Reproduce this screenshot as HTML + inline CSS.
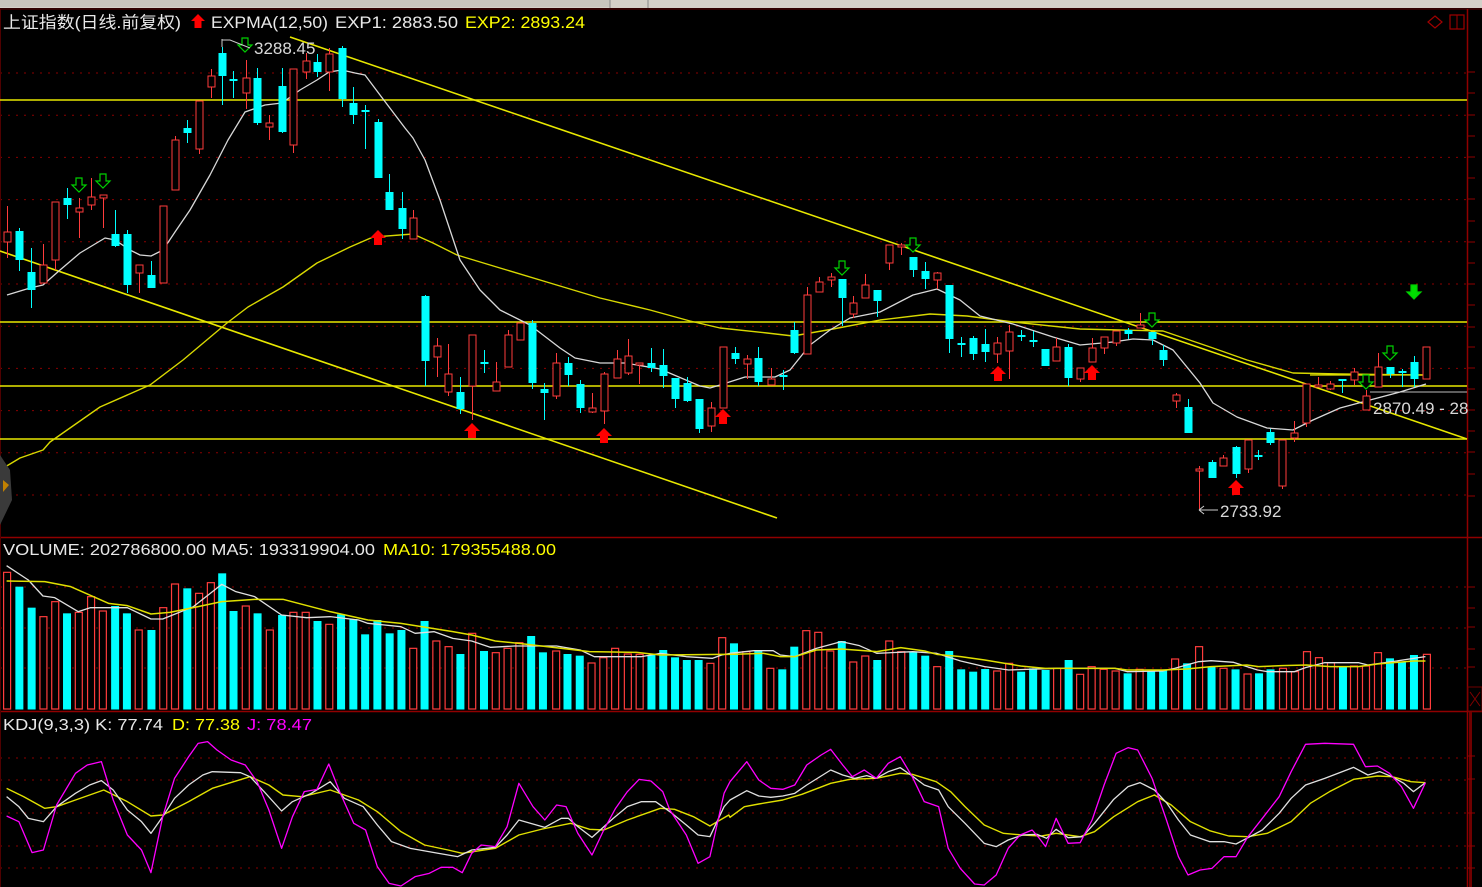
<!DOCTYPE html>
<html><head><meta charset="utf-8"><style>
html,body{margin:0;padding:0;background:#000;width:1482px;height:887px;overflow:hidden}
svg{display:block}
text{font-family:"Liberation Sans","Noto Sans CJK SC",sans-serif}
</style></head><body>
<svg id="s" width="1482" height="887" xmlns="http://www.w3.org/2000/svg">
<rect width="1482" height="887" fill="#000"/>
<rect x="0" y="0" width="1482" height="8" fill="#d4d0c8"/>
<rect x="0" y="0" width="610" height="7" fill="#c8c4bc"/>
<line x1="610" y1="0" x2="610" y2="8" stroke="#888"/><line x1="648" y1="0" x2="648" y2="8" stroke="#888"/>
<g id="grid"></g>
<g id="main"></g>
<text x="3" y="28" font-size="16.5" fill="#e8e8e8" textLength="178" lengthAdjust="spacingAndGlyphs">上证指数(日线.前复权)</text>
<polygon points="198,14 205,21 201.5,21 201.5,28 194.5,28 194.5,21 191,21" fill="#ff0000"/>
<text x="211" y="28" font-size="16.5" fill="#e8e8e8" textLength="117" lengthAdjust="spacingAndGlyphs">EXPMA(12,50)</text>
<text x="335" y="28" font-size="16.5" fill="#e8e8e8" textLength="123" lengthAdjust="spacingAndGlyphs">EXP1: 2883.50</text>
<text x="465" y="28" font-size="16.5" fill="#ffff00" textLength="120" lengthAdjust="spacingAndGlyphs">EXP2: 2893.24</text>
<text x="254" y="54" font-size="17" fill="#d8d8d8">3288.45</text>
<path d="M222,39 L222,47 M222,40 L230,40 L250,48" stroke="#ccc" fill="none"/>
<text x="1220" y="517" font-size="17" fill="#d8d8d8">2733.92</text>
<path d="M1199,510 L1218,510 M1199,510 L1204,506 M1199,510 L1204,514" stroke="#ccc" fill="none"/>
<text x="1373" y="414" font-size="17" fill="#d8d8d8">2870.49 - 28</text>
<text x="3" y="555" font-size="15.5" fill="#e8e8e8" textLength="372" lengthAdjust="spacingAndGlyphs">VOLUME: 202786800.00  MA5: 193319904.00</text>
<text x="383" y="555" font-size="15.5" fill="#ffff00" textLength="173" lengthAdjust="spacingAndGlyphs">MA10: 179355488.00</text>
<text x="3" y="730" font-size="15.5" fill="#e8e8e8" textLength="160" lengthAdjust="spacingAndGlyphs">KDJ(9,3,3)  K: 77.74</text>
<text x="172" y="730" font-size="15.5" fill="#ffff00" textLength="68" lengthAdjust="spacingAndGlyphs">D: 77.38</text>
<text x="247" y="730" font-size="15.5" fill="#ff00ff" textLength="65" lengthAdjust="spacingAndGlyphs">J: 78.47</text>
<polygon points="1435,16 1442,22 1435,28 1428,22" fill="none" stroke="#a00000" stroke-width="1.2"/>
<rect x="1450" y="15" width="14" height="14" fill="none" stroke="#a00000" stroke-width="1.2"/><line x1="1457" y1="15" x2="1457" y2="29" stroke="#a00000"/>
<polygon points="0,455 10,470 12,500 0,525" fill="#3a3a3a"/><polygon points="3,480 9,485 3,492" fill="#c08000"/>
</svg>
<script>
var S=document.getElementById('main'),G=document.getElementById('grid'),NS='http://www.w3.org/2000/svg';
function el(p,n,a){var e=document.createElementNS(NS,n);for(var k in a)e.setAttribute(k,a[k]);p.appendChild(e);return e;}
for(var k=0;k<11;k++){var y=73+42.2*k;el(G,'line',{x1:0,x2:1466,y1:y,y2:y,stroke:'#8a0000','stroke-dasharray':'2,6'});}
[587,628,668].forEach(function(y){el(G,'line',{x1:0,x2:1466,y1:y,y2:y,stroke:'#8a0000','stroke-dasharray':'2,6'})});
[758,780,813,846,868].forEach(function(y){el(G,'line',{x1:0,x2:1466,y1:y,y2:y,stroke:'#8a0000','stroke-dasharray':'2,6'})});
el(G,'line',{x1:0,x2:1482,y1:537.5,y2:537.5,stroke:'#900000','stroke-width':1.5});
el(G,'line',{x1:0,x2:1482,y1:711.5,y2:711.5,stroke:'#900000','stroke-width':1.5});
el(G,'line',{x1:0,x2:1482,y1:9,y2:9,stroke:'#600000'});
el(G,'line',{x1:1467.5,x2:1467.5,y1:9,y2:887,stroke:'#900000','stroke-width':1.5});
el(G,'line',{x1:1470.5,x2:1470.5,y1:712,y2:887,stroke:'#700000','stroke-width':3});
el(G,'line',{x1:0.5,x2:0.5,y1:9,y2:887,stroke:'#500000'});
[72,93,115,136,157,178,199,221,242,263,284,305,327,347,368,389,410,431,452,474,496,587,608,627,649,667,756,779,813,846,868].forEach(function(y){el(G,'line',{x1:1468,x2:1475,y1:y,y2:y,stroke:'#900000'})});
el(G,'rect',{x:1468,y:687,width:14,height:24,fill:'none',stroke:'#700000'});
el(G,'path',{d:'M1470,692 L1480,706 M1480,692 L1470,706',stroke:'#800000'});
var Y='#e8e800';
[100,322,386,439].forEach(function(y){el(S,'line',{x1:0,x2:1467,y1:y,y2:y,stroke:Y,'stroke-width':1.6})});
el(S,'line',{x1:290,y1:37,x2:1467,y2:439,stroke:Y,'stroke-width':1.6});
el(S,'line',{x1:0,y1:251,x2:777,y2:518,stroke:Y,'stroke-width':1.6});
el(S,'line',{x1:1310,y1:375,x2:1426,y2:375,stroke:Y,'stroke-width':1.2});
el(S,'line',{x1:1370,y1:392,x2:1467,y2:392,stroke:'#bbb','stroke-width':1});
function pl(pts,c,w){el(S,'polyline',{points:pts.map(function(p){return p[0]+','+p[1]}).join(' '),fill:'none',stroke:c,'stroke-width':w||1.3,'stroke-linejoin':'round'});}
pl([[0,470],[20,458],[43,450],[50,442],[100,407],[150,385],[183,360],[227,323],[248,307],[283,287],[317,263],[350,247],[373,237],[413,234],[433,243],[457,255],[500,268],[550,283],[600,298],[650,310],[690,321],[720,328],[767,333],[793,336],[833,329],[880,320],[930,314],[967,316],[1013,322],[1080,329],[1163,331],[1213,348],[1247,360],[1293,373],[1340,374],[1426,375]],'#d8d800',1.4);
pl([[7,295],[30,288],[43,285],[60,270],[80,253],[105,238],[115,240],[130,250],[140,255],[151,256],[163,250],[175,232],[190,210],[210,175],[228,140],[245,112],[265,105],[282,103],[300,90],[317,80],[329,72],[342,70],[355,73],[365,75],[380,95],[405,128],[413,138],[425,160],[440,200],[460,260],[480,290],[500,310],[530,325],[560,348],[575,358],[600,363],[625,363],[660,369],[700,386],[710,388],[720,385],[745,377],[775,377],[790,370],[810,345],[830,330],[850,318],[880,312],[913,295],[937,289],[960,300],[980,316],[1013,324],[1053,337],[1080,345],[1113,342],[1133,339],[1153,340],[1173,350],[1200,383],[1213,403],[1237,417],[1267,428],[1293,430],[1313,420],[1340,408],[1370,400],[1400,392],[1426,384]],'#d8d8d8',1.3);
var C=[[7,'r',232,242,206,258],[19,'c',231,260,228,271],[31,'c',272,290,248,308],[43,'r',265,283,244,283],[55,'r',202,260,202,270],[67,'c',198,205,188,219],[79,'r',208,212,198,238],[91,'r',197,205,178,210],[103,'r',195,198,195,228],[115,'c',234,246,210,247],[127,'c',234,285,230,293],[139,'r',265,273,265,293],[151,'c',275,288,261,288],[163,'r',206,283,206,283],[175,'r',140,190,136,190],[187,'c',128,133,120,143],[199,'r',101,149,101,154],[211,'r',76,87,69,98],[222,'c',53,76,47,105],[233,'c',79,81,71,98],[246,'r',78,93,60,109],[257,'c',78,123,68,125],[269,'r',123,127,115,140],[282,'c',86,132,68,133],[293,'r',69,145,69,153],[306,'r',61,72,53,79],[317,'c',62,72,54,77],[329,'r',54,72,48,91],[342,'c',48,99,46,107],[353,'c',103,115,87,124],[365,'c',110,112,105,149],[378,'c',122,178,119,178],[389,'c',192,210,174,210],[402,'c',208,229,192,239],[413,'r',218,239,210,239],[425,'c',296,361,295,386],[437,'r',346,357,338,377],[448,'r',374,392,344,396],[460,'c',392,409,377,414],[472,'r',335,386,335,420],[484,'c',362,364,350,373],[496,'r',382,391,362,391],[508,'r',335,367,330,367],[520,'r',323,340,323,340],[532,'c',323,383,320,389],[544,'c',389,393,383,420],[556,'r',363,396,353,399],[568,'c',363,375,357,386],[580,'c',384,408,380,413],[592,'r',408,412,393,413],[604,'r',374,411,372,424],[617,'r',359,378,350,378],[628,'r',356,373,339,375],[639,'r',363,365,363,384],[651,'c',363,368,348,372],[663,'c',365,376,349,388],[675,'c',378,399,378,408],[687,'c',383,401,377,402],[699,'c',399,429,399,433],[711,'r',408,426,402,432],[723,'r',347,408,347,408],[735,'c',353,359,347,364],[747,'r',359,364,355,379],[758,'c',358,382,347,386],[771,'r',379,385,368,385],[783,'c',375,377,370,390],[794,'c',330,353,322,354],[807,'r',295,354,287,354],[819,'r',282,292,277,292],[831,'r',277,280,273,287],[842,'c',279,298,279,326],[853,'r',303,314,296,318],[865,'r',285,298,274,298],[877,'c',290,301,290,317],[889,'r',245,263,245,270],[901,'r',245,247,243,255],[913,'c',257,270,257,277],[925,'c',271,279,262,289],[937,'r',273,280,272,289],[949,'c',285,339,285,353],[961,'c',343,345,337,357],[973,'c',338,354,336,360],[985,'c',344,352,329,362],[997,'r',343,354,337,363],[1009,'r',332,351,325,379],[1021,'c',335,337,330,341],[1033,'c',340,342,331,347],[1045,'c',349,366,349,366],[1056,'r',347,361,338,361],[1068,'c',347,378,344,386],[1080,'r',368,379,368,382],[1092,'r',348,362,338,362],[1104,'r',337,348,337,354],[1116,'r',331,343,331,346],[1128,'c',330,334,328,339],[1140,'r',325,328,313,328],[1152,'c',332,339,332,345],[1163,'c',350,360,345,366],[1176,'r',395,401,393,408],[1188,'c',407,433,399,433],[1199,'r',469,471,466,509],[1212,'c',462,478,460,478],[1223,'r',458,466,455,466],[1236,'c',447,474,446,478],[1248,'r',440,469,440,473],[1258,'c',455,457,450,460],[1270,'c',432,443,429,445],[1282,'r',440,486,440,489],[1294,'r',433,438,421,442],[1306,'r',384,423,384,427],[1318,'r',385,387,377,387],[1330,'r',384,389,381,390],[1342,'c',379,381,379,393],[1354,'r',372,380,368,385],[1366,'r',396,410,390,410],[1378,'r',367,387,353,387],[1390,'c',367,374,367,378],[1402,'c',371,373,369,387],[1414,'c',362,379,356,387],[1426,'r',347,379,347,379]];
var R='#ff3c3c',CY='#00ffff';
C.forEach(function(d){var x=d[0],t=d[2],b=d[3],h=d[4],l=d[5];if(b-t<2){b=t+2;}
 var col=d[1]=='r'?R:CY;
 el(S,'line',{x1:x+0.5,x2:x+0.5,y1:h,y2:l,stroke:col,'stroke-width':1});
 if(d[1]=='r')el(S,'rect',{x:x-3,y:t,width:7,height:b-t,fill:'#000',stroke:R,'stroke-width':1});
 else el(S,'rect',{x:x-3.5,y:t,width:8,height:b-t,fill:CY});
});
function dn(cx,ty,fill){el(S,'polygon',{points:[cx-3,ty,cx+3,ty,cx+3,ty+7,cx+7,ty+7,cx,ty+14,cx-7,ty+7,cx-3,ty+7].join(','),fill:fill?'#00e000':'#000',stroke:'#00d000','stroke-width':1.2});}
function up(cx,by){el(S,'polygon',{points:[cx,by-15,cx+8,by-7,cx+4,by-7,cx+4,by,cx-4,by,cx-4,by-7,cx-8,by-7].join(','),fill:'#ff0000'});}
[[79,178],[103,174],[245,38],[842,261],[913,238],[1152,313],[1366,375],[1390,346]].forEach(function(a){dn(a[0],a[1],false)});
dn(1414,285,true);
[[378,245],[472,438],[604,443],[723,424],[998,381],[1092,380],[1236,495]].forEach(function(a){up(a[0],a[1])});
var V7=[[14,'r',112],[40,'c',155],[66,'c',218],[91,'r',245],[116,'r',200],[141,'c',235],[166,'r',232],[192,'r',185],[217,'r',228],[243,'c',213],[268,'c',235],[293,'r',285],[320,'c',285],[345,'r',218],[370,'r',147],[396,'c',160],[421,'r',175],[446,'r',143],[470,'c',115],[494,'c',228],[520,'r',213],[545,'c',235],[571,'r',285],[597,'c',240],[621,'r',232],[647,'r',232],[672,'c',258],[697,'r',268],[722,'c',238],[748,'c',252],[773,'c',298],[799,'c',255],[825,'c',295],[850,'c',285],[875,'r',340],[899,'c',258],[924,'r',318],[950,'r',335],[975,'c',357],[1000,'r',295],[1025,'c',348],[1050,'r',353],[1075,'r',340],[1100,'r',323],[1125,'c',303],[1150,'c',352],[1178,'r',348],[1202,'c',357],[1228,'c',362],[1253,'r',384],[1278,'r',368],[1303,'r',340],[1330,'r',357],[1355,'r',358],[1380,'c',360],[1405,'c',345],[1430,'c',367],[1455,'c',375],[1480,'c',375],[1505,'r',385],[1530,'r',308],[1555,'c',325]];
var V8=[[33,'r',350],[58,'c',345],[83,'r',400],[108,'c',403],[133,'c',335],[158,'r',287],[183,'r',292],[208,'r',348],[232,'c',318],[256,'r',381],[281,'r',363],[306,'c',375],[331,'r',318],[356,'r',350],[381,'c',350],[406,'c',362],[431,'r',395],[456,'c',348],[481,'c',403],[506,'c',410],[531,'c',402],[556,'r',408],[581,'r',385],[606,'c',410],[631,'c',400],[657,'c',405],[681,'r',400],[705,'c',375],[729,'r',418],[753,'r',395],[778,'r',403],[803,'r',408],[828,'c',415],[853,'r',403],[877,'c',408],[902,'c',405],[927,'r',372],[952,'c',385],[977,'r',335],[1003,'c',395],[1028,'r',400],[1053,'c',403],[1078,'r',417],[1102,'c',415],[1126,'c',403],[1152,'r',400],[1177,'r',410],[1202,'r',350],[1227,'r',368],[1252,'r',383],[1277,'c',393],[1300,'r',393],[1325,'r',393],[1350,'r',353],[1375,'c',370],[1400,'c',380],[1425,'c',360],[1452,'r',358]];
function vb(x,t,y){var top=535+y/3,bot=709;
 if(t=='r')el(S,'rect',{x:x-3,y:top,width:7,height:bot-top,fill:'#000',stroke:R,'stroke-width':1.2});
 else el(S,'rect',{x:x-3.5,y:top,width:8,height:bot-top+0.5,fill:CY});}
V7.forEach(function(v){vb(v[0]/2.12,v[1],v[2])});
V8.forEach(function(v){vb(730+v[0]/2.085,v[1],v[2])});
function cv(a,b,base){var r=[];a.forEach(function(p){var x=p[0]/2.12;if(x<730)r.push([x,base+p[1]/3])});b.forEach(function(p){var x=730+p[0]/2.085;if(x>=730)r.push([x,base+p[1]/3])});return r;}
pl(cv([[14,92],[60,135],[91,183],[116,188],[166,230],[192,218],[270,218],[320,252],[345,252],[410,215],[470,148],[500,170],[540,185],[597,240],[650,248],[700,245],[760,255],[780,265],[850,275],[880,295],[920,290],[960,310],[1000,318],[1040,337],[1090,333],[1180,333],[1230,345],[1260,365],[1360,365],[1400,355],[1455,365],[1510,370],[1530,360]],
 [[0,355],[50,347],[90,347],[105,360],[135,365],[180,340],[232,320],[270,332],[306,355],[381,350],[431,355],[481,378],[531,395],[581,405],[681,400],[803,400],[828,410],[902,408],[927,400],[977,380],[1003,377],[1050,382],[1100,405],[1120,410],[1177,410],[1200,398],[1240,383],[1310,383],[1330,390],[1390,378],[1425,370],[1450,365]],535),'#e0e0e0',1.3);
pl(cv([[14,138],[95,140],[150,155],[230,205],[270,212],[320,237],[360,232],[420,215],[470,200],[540,193],[600,193],[700,230],[780,255],[850,265],[960,290],[1000,300],[1050,318],[1100,325],[1250,350],[1350,352],[1400,360],[1530,358]],
 [[0,358],[70,355],[105,365],[135,365],[180,345],[232,342],[306,350],[356,338],[406,348],[431,358],[481,365],[531,375],[606,393],[657,400],[803,400],[828,405],[902,405],[952,402],[1003,395],[1078,390],[1102,395],[1150,392],[1202,390],[1252,395],[1310,395],[1350,387],[1425,378],[1450,378]],535),'#e0e000',1.5);
pl(cv([[14,235],[50,260],[95,295],[120,290],[160,270],[220,240],[270,275],[320,318],[345,315],[400,275],[450,235],[530,200],[570,225],[600,255],[640,260],[700,240],[760,270],[800,305],[850,365],[900,405],[950,420],[980,430],[1050,415],[1100,375],[1150,357],[1210,340],[1250,358],[1280,360],[1330,330],[1400,295],[1430,298],[1470,320],[1505,348],[1545,315]],
 [[0,322],[30,290],[60,282],[110,270],[150,253],[210,220],[250,208],[305,205],[355,190],[380,193],[430,215],[460,245],[490,290],[530,345],[570,370],[610,375],[650,378],[680,370],[730,380],[760,365],[800,320],[850,275],[885,255],[920,285],[960,335],[1000,362],[1040,378],[1080,380],[1120,370],[1170,335],[1210,280],[1250,245],[1300,208],[1350,198],[1380,200],[1420,215],[1450,218]],710),'#e0e000',1.4);
pl(cv([[14,260],[40,290],[60,325],[92,335],[120,290],[160,250],[190,225],[215,212],[240,240],[270,300],[300,335],[320,370],[345,320],[370,265],[400,225],[430,195],[450,185],[510,188],[530,200],[560,245],[597,303],[620,275],[660,250],[700,215],[730,265],[770,290],[800,345],[830,395],[870,415],[930,430],[970,440],[1000,420],[1050,412],[1075,375],[1100,330],[1155,352],[1190,325],[1205,325],[1225,350],[1255,382],[1300,325],[1330,290],[1360,275],[1390,275],[1420,305],[1455,345],[1480,375],[1505,380],[1535,290]],
 [[0,270],[35,242],[60,258],[85,262],[110,258],[135,250],[160,225],[210,180],[235,195],[260,205],[285,197],[305,205],[330,185],[355,173],[380,198],[405,225],[435,240],[455,290],[490,340],[530,400],[555,410],[580,390],[610,375],[640,373],[660,385],[680,358],[705,383],[735,380],[760,340],[800,268],[830,230],[855,218],[885,240],[910,278],[935,330],[960,375],[1000,395],[1030,395],[1055,402],[1080,383],[1110,360],[1145,310],[1170,265],[1200,225],[1240,205],[1300,172],[1330,195],[1355,185],[1380,200],[1405,220],[1425,245],[1450,218]],710),'#e0e0e0',1.3);
pl(cv([[14,318],[40,335],[68,428],[92,420],[120,285],[160,190],[185,165],[215,155],[240,270],[270,375],[300,420],[320,488],[345,320],[370,205],[400,140],[420,100],[440,95],[460,120],[490,150],[520,165],[545,215],[570,300],[597,415],[620,320],[645,245],[672,238],[697,162],[720,245],[750,340],[775,360],[800,470],[825,520],[850,528],[880,500],[910,490],[935,472],[960,472],[980,488],[1000,430],[1020,405],[1050,410],[1075,350],[1100,220],[1130,290],[1155,330],[1180,285],[1200,290],[1225,370],[1255,435],[1280,360],[1305,295],[1330,245],[1355,208],[1380,213],[1405,245],[1420,300],[1455,375],[1480,460],[1505,440],[1535,250]],
 [[0,215],[35,155],[60,210],[85,235],[110,238],[135,225],[160,165],[190,135],[210,118],[235,165],[255,200],[280,180],[305,205],[330,160],[355,140],[380,200],[405,275],[435,290],[455,415],[480,475],[510,522],[530,525],[555,495],[580,415],[605,375],[630,360],[645,385],[658,410],[680,325],[705,400],[730,398],[755,330],[780,225],[805,130],[830,113],[850,120],[880,205],[910,330],[935,440],[955,495],[980,480],[1005,475],[1030,440],[1055,440],[1080,380],[1110,325],[1145,260],[1170,185],[1200,103],[1240,100],[1300,103],[1325,170],[1350,168],[1375,190],[1400,230],[1425,295],[1450,218]],710),'#ff00ff',1.3);
</script>
</body></html>
